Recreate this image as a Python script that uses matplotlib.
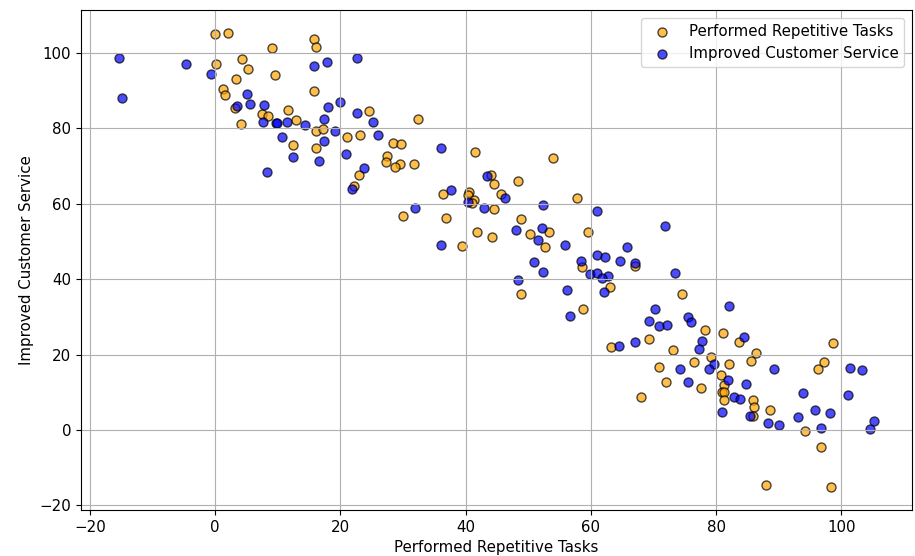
"""Scatter chart: performed repetitive tasks vs improved customer service."""

import matplotlib.pyplot as plt

# Orange series: performed repetitive tasks
TASKS_X = [
    -0.1, 2.0, 9.0, 15.7, 16.1, 0.1, 4.3, 5.2, 9.6, 3.3,
    15.8, 1.2, 1.6, 3.2, 11.6, 7.4, 8.5, 12.9, 4.1, 16.1,
    17.2, 21.1, 12.4, 16.1, 23.0, 22.1, 24.5, 32.4, 23.1, 28.4,
    29.6, 27.4, 27.3, 29.5, 28.7, 31.7, 41.5, 54.0, 44.0, 44.5,
    48.3, 40.6, 45.6, 36.4, 40.4, 41.3, 41.0, 30.0, 36.8, 39.4,
    44.5, 57.7, 48.8, 41.8, 44.2, 50.3, 53.3, 52.7, 59.6, 58.5,
    67.0, 63.0, 48.9, 74.5, 58.7, 63.2, 69.3, 73.1, 78.2, 81.1,
    83.7, 86.4, 85.5, 79.1, 82.1, 76.4, 70.8, 72.0, 77.6, 80.7,
    81.3, 80.9, 81.3, 81.2, 85.8, 86.1, 85.8, 88.6, 68.0, 98.6,
    97.2, 96.2, 94.1, 96.8, 88.0, 98.4,
]
TASKS_Y = [
    105.1, 105.3, 101.3, 103.7, 101.6, 97.1, 98.4, 95.8, 94.1, 93.2,
    89.8, 90.4, 88.7, 85.5, 84.9, 83.9, 83.2, 82.2, 81.2, 79.2,
    79.9, 77.6, 75.7, 74.7, 67.5, 64.7, 84.7, 82.4, 78.1, 76.1,
    75.8, 72.7, 71.1, 70.5, 69.7, 70.5, 73.8, 72.1, 67.5, 65.2,
    66.0, 63.0, 62.6, 62.6, 62.2, 61.1, 60.2, 56.8, 56.2, 48.8,
    58.5, 61.4, 56.0, 52.6, 51.1, 52.0, 52.5, 48.5, 52.5, 43.3,
    43.6, 38.0, 36.1, 36.1, 32.1, 22.1, 24.1, 21.3, 26.4, 25.7,
    23.3, 20.3, 18.4, 19.4, 17.5, 17.9, 16.7, 12.7, 11.0, 14.5,
    11.8, 10.1, 10.1, 8.0, 7.9, 6.1, 3.7, 5.4, 8.7, 23.0,
    18.1, 16.1, -0.2, -4.4, -14.6, -15.2,
]

# Blue series: improved customer service
SERVICE_X = [
    -15.4, -14.8, -4.6, -0.6, 15.8, 17.9, 22.7, 5.1, 3.5, 5.5,
    7.8, 20.0, 18.0, 22.7, 17.3, 7.7, 9.7, 9.8, 11.5, 14.4,
    19.2, 10.7, 17.4, 20.9, 12.4, 16.5, 8.2, 21.8, 25.2, 26.0,
    36.0, 23.8, 43.4, 37.7, 31.9, 36.0, 40.4, 46.3, 43.0, 52.4,
    61.0, 71.9, 48.1, 52.2, 51.6, 55.8, 65.8, 50.9, 52.4, 58.4,
    61.0, 62.2, 64.7, 67.0, 59.9, 61.0, 62.7, 61.8, 73.4, 48.3,
    56.2, 62.1, 56.6, 70.3, 69.3, 70.8, 72.2, 75.5, 75.9, 82.1,
    84.5, 77.7, 77.2, 64.4, 67.1, 79.7, 78.9, 74.2, 75.5, 81.9,
    84.8, 82.9, 83.8, 89.3, 101.4, 103.2, 93.8, 101.0, 80.9, 85.4,
    88.3, 90.0, 93.0, 95.7, 98.1, 105.2, 104.5, 96.8,
]
SERVICE_Y = [
    98.7, 88.1, 97.0, 94.5, 96.4, 97.6, 98.7, 89.0, 86.0, 86.5,
    86.1, 87.1, 85.7, 84.1, 82.4, 81.6, 81.5, 81.3, 81.6, 80.9,
    79.2, 77.8, 76.7, 73.2, 72.4, 71.2, 68.3, 63.8, 81.6, 78.3,
    74.9, 69.5, 67.3, 63.7, 58.8, 49.1, 60.4, 61.4, 58.8, 59.7,
    58.0, 54.2, 52.9, 53.6, 50.5, 49.1, 48.5, 44.5, 42.0, 44.8,
    46.4, 45.9, 44.8, 44.2, 41.4, 41.6, 40.8, 40.2, 41.6, 39.7,
    37.1, 36.6, 30.1, 32.0, 29.0, 27.5, 27.9, 29.9, 28.6, 32.8,
    24.7, 23.5, 21.6, 22.4, 23.3, 17.5, 16.3, 16.3, 12.7, 13.3,
    12.1, 8.7, 8.1, 16.1, 16.5, 16.0, 9.9, 9.2, 4.7, 3.7,
    1.9, 1.4, 3.5, 5.4, 4.5, 2.4, 0.3, 0.4,
]


def main() -> None:
    plt.rcParams["font.size"] = 10.8

    fig = plt.figure(figsize=(9.15, 5.56), dpi=100)
    ax = fig.add_axes([0.0885, 0.0827, 0.908, 0.899])

    ax.scatter(TASKS_X, TASKS_Y, s=42, color="orange", alpha=0.7,
               edgecolors="black", label="Performed Repetitive Tasks")
    ax.scatter(SERVICE_X, SERVICE_Y, s=42, color="blue", alpha=0.7,
               edgecolors="black", label="Improved Customer Service")

    ax.set_xlabel("Performed Repetitive Tasks")
    ax.set_ylabel("Improved Customer Service")
    ax.legend(loc="upper right")
    ax.grid(True)

    fig.savefig("out.png", dpi=100)
    plt.close(fig)


if __name__ == "__main__":
    main()
